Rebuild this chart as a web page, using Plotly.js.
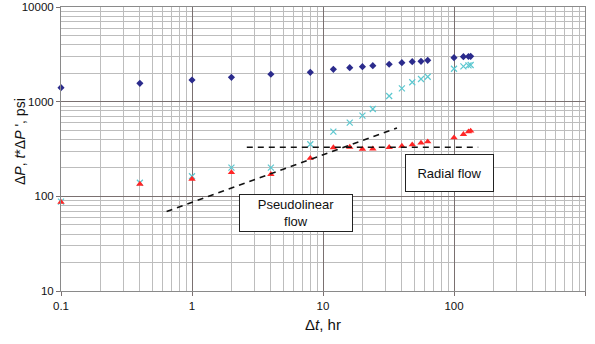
<!DOCTYPE html>
<html>
<head>
<meta charset="utf-8">
<script src="https://cdn.plot.ly/plotly-3.0.1.min.js"></script>
<style>html,body{margin:0;padding:0;background:#fff;}#chart{width:595px;height:344px;}</style>
</head>
<body>
<div id="chart"></div>
<script>
// Elapsed time, hr
const dt = [0.1, 0.4, 1, 2, 4, 8, 12, 16, 20, 24, 32, 40, 48, 56, 63, 100, 118, 129, 134];
// Pressure change, psi
const dP = [1406, 1563, 1694, 1808, 1946, 2042, 2197, 2285, 2343, 2401, 2483, 2580, 2644, 2669, 2733, 2918, 2989, 3000, 3010];
// Second series (cyan crosses)
const dPx = [88, 139, 163, 201, 201, 355, 482, 600, 711, 837, 1148, 1384, 1603, 1735, 1835, 2229, 2360, 2420, 2437];
// Pressure derivative t*dP', psi
const dPd = [87, 135, 152, 179, 171, 253, 327, 332, 316, 318, 330, 340, 351, 366, 378, 416, 452, 482, 490];

// Pseudolinear half-slope line
const linX = [0.64, 36.7];
const linY = [69, 527];
// Radial flow line
const radX = [2.62, 153];
const radY = [330, 330];

const xTicks = [0.1, 1, 10, 100, 1000];
const xTickText = ['0.1', '1', '10', '100', '1000'];
const yTicks = [10, 100, 1000, 10000];
const yTickText = ['10', '100', '1000', '10000'];

const traces = [
  {x: dt, y: dP, mode: 'markers', type: 'scatter', cliponaxis: false,
   marker: {symbol: 'diamond', size: 5.5, color: '#2b2b8c'}},
  {x: dt, y: dPx, mode: 'markers', type: 'scatter', cliponaxis: false,
   marker: {symbol: 'x-thin-open', size: 6, line: {color: '#5cc8d0', width: 1.2}, color: '#5cc8d0'}},
  {x: dt, y: dPd, mode: 'markers', type: 'scatter', cliponaxis: false,
   marker: {symbol: 'triangle-up', size: 6.5, color: '#ff2626'}},
  {x: linX, y: linY, mode: 'lines', type: 'scatter',
   line: {color: '#111', width: 1.6, dash: '6px,5px'}},
  {x: radX, y: radY, mode: 'lines', type: 'scatter',
   line: {color: '#111', width: 1.6, dash: '6px,5px'}}
];

const font = {family: 'Liberation Sans, Arial, sans-serif', color: '#111'};

const layout = {
  width: 595, height: 344,
  margin: {l: 61, r: 10, t: 7, b: 53},
  paper_bgcolor: '#fff', plot_bgcolor: '#fff',
  showlegend: false,
  font: Object.assign({size: 11}, font),
  xaxis: {
    type: 'log', range: [-1, 3],
    tickmode: 'array', tickvals: xTicks, ticktext: xTickText,
    showgrid: true, gridcolor: '#7a7070', gridwidth: 1,
    minor: {dtick: 'D1', showgrid: true, gridcolor: '#bdbdbd', gridwidth: 1},
    showline: true, linecolor: '#8a8a8a', linewidth: 1, mirror: true,
    ticks: 'outside', ticklen: 4, tickcolor: '#7a7070',
    zeroline: false,
    tickfont: Object.assign({size: 11.5}, font),
    title: {text: 'Δ<i>t</i>, hr', font: Object.assign({size: 15}, font), standoff: 8}
  },
  yaxis: {
    type: 'log', range: [1, 4],
    tickmode: 'array', tickvals: yTicks, ticktext: yTickText,
    showgrid: true, gridcolor: '#7a7070', gridwidth: 1,
    minor: {dtick: 'D1', showgrid: true, gridcolor: '#bdbdbd', gridwidth: 1},
    showline: true, linecolor: '#8a8a8a', linewidth: 1, mirror: true,
    ticks: 'outside', ticklen: 4, tickcolor: '#7a7070',
    zeroline: false,
    tickfont: Object.assign({size: 11.5}, font)
  },
  annotations: [
    {x: -0.078, y: 0.525, xref: 'paper', yref: 'paper', text: 'Δ<i>P</i>, <i>t</i>*Δ<i>P</i> \', psi',
     textangle: -90, showarrow: false, xanchor: 'center', yanchor: 'middle',
     font: Object.assign({size: 14}, font)},
    {x: 0.794, y: 1.819, xref: 'x', yref: 'y', text: 'Pseudolinear<br>flow',
     showarrow: false, bgcolor: '#fff', bordercolor: '#222', borderwidth: 1,
     width: 110, height: 34, borderpad: 1, align: 'center',
     font: Object.assign({size: 13}, font)},
    {x: 1.969, y: 2.243, xref: 'x', yref: 'y', text: 'Radial flow',
     showarrow: false, bgcolor: '#fff', bordercolor: '#222', borderwidth: 1,
     width: 85, height: 34, borderpad: 1, align: 'center',
     font: Object.assign({size: 13}, font)}
  ]
};

Plotly.newPlot('chart', traces, layout, {staticPlot: true, displayModeBar: false});
</script>
</body>
</html>
